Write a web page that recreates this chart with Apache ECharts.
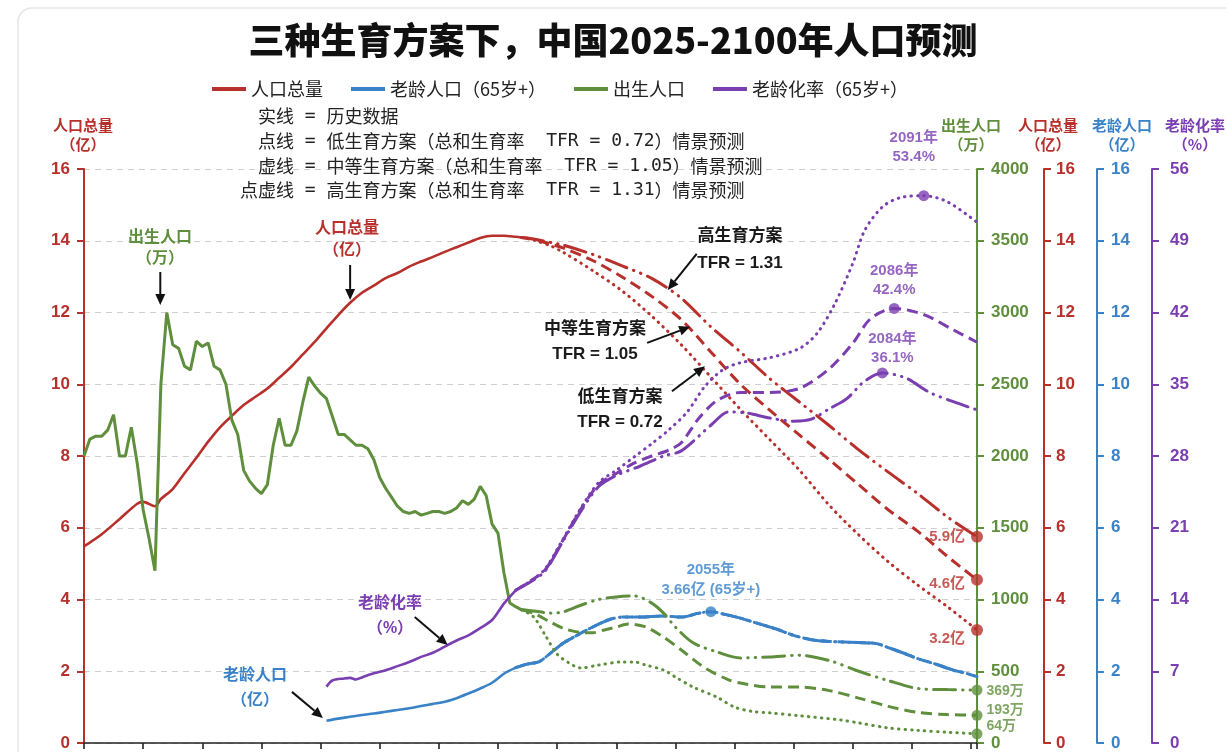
<!DOCTYPE html>
<html>
<head>
<meta charset="utf-8">
<script src="https://cdn.jsdelivr.net/npm/echarts@6.0.0/dist/echarts.min.js"></script>
<style>
html,body{margin:0;padding:0;background:#ffffff;}
#chart{width:1226px;height:752px;}
</style>
</head>
<body>
<div id="chart"></div>
<script>
// ================= DATA =================
// 人口总量（亿）historical
const popHist = [[1949,5.48],[1952,5.82],[1955,6.24],[1958,6.67],[1959,6.72],[1961,6.6],[1962,6.8],[1964,7.08],[1966,7.52],[1968,7.95],[1970,8.4],[1972,8.8],[1974,9.12],[1976,9.42],[1978,9.65],[1980,9.88],[1982,10.18],[1984,10.48],[1986,10.83],[1988,11.18],[1990,11.56],[1992,11.93],[1994,12.27],[1996,12.55],[1998,12.75],[2000,12.96],[2002,13.1],[2004,13.28],[2006,13.42],[2008,13.55],[2010,13.69],[2012,13.82],[2014,13.95],[2016,14.08],[2018,14.14],[2020,14.14],[2022,14.11],[2023,14.09]];
// 人口总量 projections
const popLow  = [[2023,14.09],[2025,14.02],[2028,13.85],[2030,13.68],[2035,13.17],[2040,12.6],[2045,11.9],[2050,11.1],[2055,10.2],[2060,9.3],[2065,8.45],[2070,7.6],[2075,6.63],[2080,5.8],[2085,5.05],[2090,4.4],[2095,3.8],[2100,3.15]];
const popMid  = [[2023,14.09],[2025,14.04],[2028,13.9],[2030,13.8],[2035,13.45],[2040,12.99],[2045,12.45],[2050,11.8],[2055,10.9],[2060,10.0],[2065,9.27],[2070,8.58],[2075,7.9],[2080,7.2],[2085,6.5],[2090,5.9],[2095,5.2],[2100,4.55]];
const popHigh = [[2023,14.09],[2025,14.05],[2028,13.95],[2030,13.88],[2035,13.62],[2040,13.3],[2045,12.95],[2050,12.4],[2055,11.6],[2060,10.9],[2065,10.15],[2070,9.5],[2075,8.85],[2080,8.17],[2085,7.55],[2090,6.95],[2095,6.3],[2100,5.75]];
const popEndLabels = ['5.9亿','4.6亿','3.2亿'];   // high, mid, low

// 出生人口（万）historical
const birthHist = [[1949,2000],[1950,2118],[1951,2138],[1952,2138],[1953,2180],[1954,2288],[1955,2000],[1956,2000],[1957,2200],[1958,1950],[1959,1625],[1960,1425],[1961,1200],[1962,2500],[1963,3000],[1964,2775],[1965,2750],[1966,2625],[1967,2600],[1968,2800],[1969,2763],[1970,2788],[1971,2625],[1972,2600],[1973,2500],[1974,2250],[1975,2150],[1976,1900],[1977,1825],[1978,1775],[1979,1738],[1980,1800],[1981,2075],[1982,2263],[1983,2075],[1984,2075],[1985,2175],[1986,2375],[1987,2550],[1988,2488],[1989,2438],[1990,2400],[1991,2275],[1992,2150],[1993,2150],[1994,2113],[1995,2075],[1996,2075],[1997,2050],[1998,1975],[1999,1850],[2000,1775],[2001,1713],[2002,1650],[2003,1613],[2004,1600],[2005,1613],[2006,1588],[2007,1600],[2008,1613],[2009,1613],[2010,1600],[2011,1613],[2012,1638],[2013,1688],[2014,1663],[2015,1700],[2016,1788],[2017,1725],[2018,1525],[2019,1463],[2020,1188],[2021,975],[2022,950],[2023,928]];
const birthLow  = [[2023,928],[2025,880],[2027,750],[2029,620],[2031,558],[2033,523],[2036,543],[2040,565],[2042,565],[2044,543],[2047,508],[2049,460],[2052,390],[2056,320],[2059,250],[2062,220],[2065,210],[2070,190],[2077,160],[2080,140],[2085,105],[2090,88],[2095,75],[2100,64]];
const birthMid  = [[2023,928],[2025,905],[2028,840],[2030,800],[2033,770],[2035,768],[2037,788],[2039,808],[2041,830],[2044,808],[2047,738],[2050,648],[2054,523],[2058,440],[2060,418],[2065,390],[2070,390],[2075,365],[2080,313],[2085,255],[2090,213],[2095,198],[2100,193]];
const birthHigh = [[2023,928],[2025,920],[2028,905],[2030,913],[2033,960],[2036,1000],[2039,1018],[2042,1025],[2045,975],[2047,905],[2049,808],[2052,698],[2056,635],[2060,593],[2065,600],[2070,612],[2075,575],[2080,500],[2085,435],[2090,380],[2095,372],[2100,369]];

// 老龄人口（亿）
const elderHist = [[1990,0.62],[1992,0.68],[1994,0.73],[1996,0.78],[1998,0.82],[2000,0.87],[2002,0.92],[2004,0.97],[2006,1.03],[2008,1.09],[2010,1.15],[2012,1.25],[2014,1.38],[2016,1.52],[2018,1.68],[2020,1.93],[2022,2.1]];
const elderProj = [[2022,2.1],[2024,2.2],[2026,2.27],[2028,2.52],[2030,2.78],[2032,2.97],[2034,3.15],[2036,3.31],[2038,3.45],[2040,3.51],[2043,3.51],[2047,3.54],[2050,3.51],[2053,3.62],[2055,3.66],[2057,3.6],[2060,3.48],[2063,3.33],[2066,3.18],[2069,3.0],[2072,2.88],[2075,2.83],[2080,2.8],[2083,2.77],[2085,2.66],[2088,2.48],[2090,2.35],[2093,2.2],[2096,2.03],[2098,1.95],[2100,1.85]];

// 老龄化率（%）
const agingHist = [[1990,5.5],[1991,6.1],[1993,6.3],[1994,6.35],[1995,6.2],[1996,6.4],[1998,6.8],[2000,7.1],[2002,7.5],[2004,7.9],[2006,8.4],[2008,8.8],[2010,9.4],[2012,10.0],[2014,10.5],[2016,11.2],[2018,12.0],[2020,13.6],[2022,14.9]];
const agingLow  = [[2022,14.9],[2025,16.0],[2027,17.0],[2030,19.9],[2033,22.9],[2036,25.4],[2039,26.6],[2042,27.9],[2045,29.2],[2048,30.6],[2051,32.3],[2054,34.8],[2057,36.4],[2060,37.1],[2065,37.6],[2070,38.5],[2073,40.0],[2076,42.9],[2079,46.8],[2081,50.0],[2084,52.3],[2087,53.2],[2091,53.4],[2095,52.8],[2100,50.8]];
const agingMid  = [[2022,14.9],[2025,16.0],[2027,16.9],[2030,19.8],[2033,22.8],[2036,25.2],[2039,26.3],[2042,27.3],[2045,28.0],[2048,28.6],[2050,29.3],[2053,31.7],[2056,33.4],[2060,34.2],[2065,34.2],[2070,34.6],[2075,36.5],[2079,39.0],[2082,41.4],[2086,42.4],[2091,41.8],[2096,40.3],[2100,39.1]];
const agingHigh = [[2022,14.9],[2025,15.9],[2027,16.8],[2030,19.7],[2033,22.6],[2036,25.0],[2039,26.1],[2043,27.0],[2047,28.0],[2050,28.5],[2055,31.0],[2058,32.3],[2061,32.2],[2065,31.7],[2069,31.4],[2072,31.6],[2075,32.6],[2078,33.6],[2081,35.3],[2084,36.1],[2088,35.6],[2092,34.2],[2096,33.3],[2100,32.5]];

// axes / labels
const legendNames = ['人口总量','老龄人口（65岁+）','出生人口','老龄化率（65岁+）'];
const xRange = [1949, 2100, 10];
const popRange = [0, 16, 2];
const birthRange = [0, 4000, 500];
const agingRange = [0, 56, 7];
const styleNotes = [
  ['实线', ' = ', '历史数据', '', ''],
  ['点线', ' = ', '低生育方案（总和生育率', '  TFR = 0.72', '）情景预测'],
  ['虚线', ' = ', '中等生育方案（总和生育率', '  TFR = 1.05', '）情景预测'],
  ['点虚线', ' = ', '高生育方案（总和生育率', '  TFR = 1.31', '）情景预测']
];

// ================= CHART =================
const FONT = '"Noto Sans CJK SC","Noto Sans",sans-serif';
const NUMFONT = '"Liberation Sans","Noto Sans CJK SC",sans-serif';
const MONO = '"DejaVu Sans Mono","Liberation Mono",monospace';
const C = {red:'#B8302B', green:'#5F8F3C', blue:'#3A82C8', purple:'#7A3EB1', ink:'#1a1a1a'};
const SOLID = {type:'solid', width:2.6};
const DOT = {type:[0.5,6], cap:'round', width:3};
const DASH = {type:[11,6], cap:'butt', width:3};
const DASHDOT = {type:[22,7,0.5,7,0.5,7], cap:'round', width:3};

function line(name, data, yIdx, color, style, smooth){
  return {type:'line', name, data, yAxisIndex:yIdx, symbol:'none', showSymbol:false,
    smooth: smooth===undefined ? 0.3 : smooth,
    lineStyle:Object.assign({color}, style), itemStyle:{color}, z:3, silent:true};
}
function yAxis(range, color, pos, offset, split, margin){
  return {type:'value', position:pos, offset, min:range[0], max:range[1], interval:range[2],
    axisLine:{show:true, onZero:false, lineStyle:{color, width:2}},
    axisTick:{show:true, length:7, lineStyle:{color, width:2}},
    axisLabel:{color, fontSize:17, fontWeight:'bold', fontFamily:NUMFONT, margin, formatter:v=>String(v)},
    splitLine:{show:split, lineStyle:{color:'#cfcfcf', type:[6,5], width:1}}};
}
function peakOf(arr){ return arr.reduce((a,b)=> b[1]>a[1]?b:a); }
function last(arr){ return arr[arr.length-1]; }

const purplePeaks = [agingLow, agingMid, agingHigh].map(peakOf);
const purplePeakLabelOpts = [
  {distance:24, offset:[-10,0]},
  {distance:4, offset:[0,0]},
  {distance:0, offset:[10,0]}
];
const elderPeak = peakOf(elderProj);
const popEnds = [popHigh, popMid, popLow].map(last);
const popEndOffsets = [[0,0],[0,4],[0,9]];
const birthEnds = [birthHigh, birthMid, birthLow].map(last);
const birthEndOffsets = [[0,1],[0,-5],[0,-8]];

const chart = echarts.init(document.getElementById('chart'), null, {renderer:'canvas'});

const option = {
  animation:false,
  backgroundColor:'#ffffff',
  textStyle:{fontFamily:FONT},
  title:{text:'三种生育方案下，中国2025-2100年人口预测', left:'center', top:17,
    textStyle:{fontSize:36, fontWeight:900, color:'#111', fontFamily:FONT}},
  legend:{data:legendNames, left:207, top:75, icon:'rect', itemWidth:34, itemHeight:4, itemGap:28,
    textStyle:{fontSize:18, color:'#222', fontFamily:FONT}},
  grid:{left:84, right:249, top:169, bottom:9, containLabel:false},
  xAxis:{type:'value', min:xRange[0], max:xRange[1], interval:xRange[2],
    axisLine:{show:true, onZero:false, lineStyle:{color:'#222', width:1.6}},
    axisTick:{show:true, length:6, lineStyle:{color:'#222', width:1.6}},
    axisLabel:{show:false}, splitLine:{show:false}},
  yAxis:[
    yAxis(popRange, C.red, 'left', 0, true, 14),
    yAxis(birthRange, C.green, 'right', 0, false, 14),
    yAxis(popRange, C.red, 'right', 67, false, 12),
    yAxis(popRange, C.blue, 'right', 120, false, 14),
    yAxis(agingRange, C.purple, 'right', 175, false, 18)
  ],
  series:[
    line('人口总量', popHist, 0, C.red, SOLID),
    line('人口总量-低', popLow, 0, C.red, DOT),
    line('人口总量-中', popMid, 0, C.red, DASH),
    line('人口总量-高', popHigh, 0, C.red, DASHDOT),

    line('老龄人口（65岁+）', elderHist, 3, C.blue, SOLID),
    line('老龄人口-低', elderProj, 3, C.blue, DOT),
    line('老龄人口-中', elderProj, 3, C.blue, DASH),
    line('老龄人口-高', elderProj, 3, C.blue, DASHDOT),

    line('出生人口', birthHist, 1, C.green, {type:'solid', width:3}, false),
    line('出生人口-低', birthLow, 1, C.green, DOT),
    line('出生人口-中', birthMid, 1, C.green, DASH),
    line('出生人口-高', birthHigh, 1, C.green, DASHDOT),

    line('老龄化率（65岁+）', agingHist, 4, C.purple, SOLID),
    line('老龄化率-低', agingLow, 4, C.purple, DOT),
    line('老龄化率-中', agingMid, 4, C.purple, DASH),
    line('老龄化率-高', agingHigh, 4, C.purple, DASHDOT),

    {type:'scatter', name:'m-pop', yAxisIndex:0, symbolSize:12, z:10, silent:true,
      itemStyle:{color:C.red},
      data: popEnds.map((p,i)=>({value:p, label:{formatter:popEndLabels[i], offset:popEndOffsets[i]}})),
      label:{show:true, position:'left', distance:6, color:C.red, fontSize:15, fontWeight:'bold', fontFamily:NUMFONT}},
    {type:'scatter', name:'m-birth', yAxisIndex:1, symbolSize:11, z:10, silent:true,
      itemStyle:{color:C.green},
      data: birthEnds.map((p,i)=>({value:p, label:{formatter:p[1]+'万', offset:birthEndOffsets[i]}})),
      label:{show:true, position:'right', distance:4, color:C.green, fontSize:14, fontWeight:'bold', fontFamily:NUMFONT}},
    {type:'scatter', name:'m-aging', yAxisIndex:4, symbolSize:11, z:10, silent:true,
      itemStyle:{color:C.purple},
      data: purplePeaks.map((p,i)=>({value:p, label:Object.assign({formatter:p[0]+'年\n'+p[1].toFixed(1)+'%'}, purplePeakLabelOpts[i])})),
      label:{show:true, position:'top', color:C.purple, fontSize:15, fontWeight:'bold', lineHeight:19, fontFamily:NUMFONT}},
    {type:'scatter', name:'m-elder', yAxisIndex:3, symbolSize:11, z:10, silent:true,
      itemStyle:{color:C.blue},
      data:[{value:elderPeak, label:{formatter:elderPeak[0]+'年\n'+elderPeak[1].toFixed(2)+'亿 (65岁+)'}}],
      label:{show:true, position:'top', distance:6, color:C.blue, fontSize:15, fontWeight:'bold', lineHeight:20, fontFamily:NUMFONT}}
  ]
};
chart.setOption(option);

// ================= ANNOTATIONS =================
function txt(t, x, y, color, size, weight, align, family){
  return {type:'text', x, y, z:50, silent:true,
    style:{text:t, fill:color, font:(weight||'normal')+' '+size+'px '+(family||FONT), align:align||'center', verticalAlign:'middle'}};
}
function arrow(x1,y1,x2,y2){
  const a = Math.atan2(y2-y1, x2-x1), L=11, W=5;
  const bx = x2 - L*Math.cos(a), by = y2 - L*Math.sin(a);
  const px = -Math.sin(a)*W, py = Math.cos(a)*W;
  return [
    {type:'line', z:50, silent:true, shape:{x1, y1, x2:bx, y2:by}, style:{stroke:'#111', lineWidth:2}},
    {type:'polygon', z:50, silent:true, shape:{points:[[x2,y2],[bx+px,by+py],[bx-px,by-py]]}, style:{fill:'#111'}}
  ];
}
// tip: data point the arrow touches; tail: pixel offset from tip; text: pixel layout of the caption
const notes = [
  {y:1, tip:[1961.9, 3052], tail:[0,-33], lines:[['出生人口',160,238],['（万）',160,259]], color:C.green, size:16},
  {y:0, tip:[1994, 12.35], tail:[0,-35], lines:[['人口总量',347,229],['（亿）',347,251]], color:C.red, size:16},
  {y:4, tip:[2010.5, 9.56], tail:[-33,-28], lines:[['老龄化率',390,604],['（%）',390,629]], color:C.purple, size:16},
  {y:3, tip:[1989.4, 0.7], tail:[-31,-26], lines:[['老龄人口',255,676],['（亿）',255,701]], color:C.blue, size:16},
  {y:0, tip:[2047.7, 12.63], tail:[29,-36], lines:[['高生育方案',740,236],['TFR = 1.31',740,263]], color:C.ink, size:17},
  {y:0, tip:[2051.5, 11.6], tail:[-43,16], lines:[['中等生育方案',595,329],['TFR = 1.05',595,354]], color:C.ink, size:17},
  {y:0, tip:[2054, 10.5], tail:[-33,25], lines:[['低生育方案',620,397],['TFR = 0.72',620,422]], color:C.ink, size:17}
];
const g = [];
g.push({type:'rect', z:-10, silent:true, shape:{x:18, y:8, width:1260, height:800, r:14},
  style:{fill:'none', stroke:'#e6e6e6', lineWidth:1.5}});
notes.forEach(n=>{
  const p = chart.convertToPixel({xAxisIndex:0, yAxisIndex:n.y}, n.tip);
  arrow(p[0]+n.tail[0], p[1]+n.tail[1], p[0], p[1]).forEach(e=>g.push(e));
  n.lines.forEach(l=>g.push(txt(l[0], l[1], l[2], n.color, n.size, 'bold', 'center', NUMFONT)));
});
// style explanation block (rich text: CJK + monospaced TFR part)
const noteYs = [116, 141, 166, 190];
styleNotes.forEach((s,i)=>{
  g.push(txt(s[0], 294, noteYs[i], '#222', 18, 'normal', 'right'));
  g.push({type:'text', x:294, y:noteYs[i], z:50, silent:true,
    style:{text:'{m|'+s[1]+'}{c|'+s[2]+'}' + (s[3] ? '{m|'+s[3]+'}{c|'+s[4]+'}' : ''),
      align:'left', verticalAlign:'middle', fill:'#222',
      rich:{c:{fontSize:18, fontFamily:FONT, fill:'#222'}, m:{fontSize:18, fontFamily:MONO, fill:'#222'}}}});
});
// axis captions
const axisCaps = [
  ['人口总量','（亿）',83,C.red],
  ['出生人口','（万）',971,C.green],
  ['人口总量','（亿）',1048,C.red],
  ['老龄人口','（亿）',1122,C.blue],
  ['老龄化率','（%）',1195,C.purple]
];
axisCaps.forEach(a=>{
  g.push(txt(a[0], a[2], 125, a[3], 15, 'bold'));
  g.push(txt(a[1], a[2], 144, a[3], 15, 'bold'));
});
chart.setOption({graphic:g});
</script>
</body>
</html>
